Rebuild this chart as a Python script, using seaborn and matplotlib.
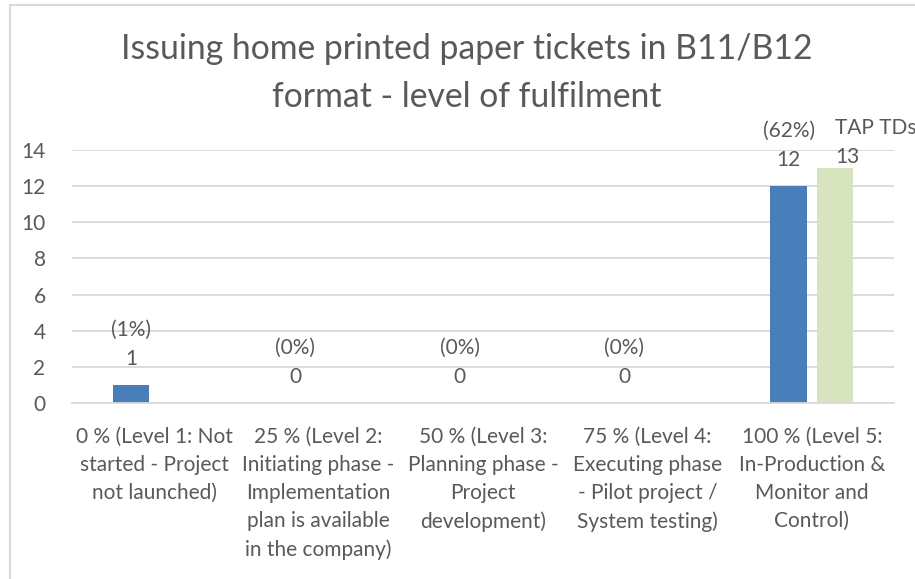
import numpy as np
import pandas as pd
import matplotlib
matplotlib.use("Agg")
import matplotlib.pyplot as plt
import seaborn as sns
from matplotlib.patches import Rectangle

sns.set_theme(style="white")
plt.rcParams["font.family"] = ["Liberation Sans Narrow", "Lato", "DejaVu Sans"]

# Data
categories = [
    "0 % (Level 1: Not\nstarted - Project\nnot launched)",
    "25 % (Level 2:\nInitiating phase -\nImplementation\nplan is available\nin the company)",
    "50 % (Level 3:\nPlanning phase -\nProject\ndevelopment)",
    "75 % (Level 4:\nExecuting phase\n- Pilot project /\nSystem testing)",
    "100 % (Level 5:\nIn-Production &\nMonitor and\nControl)",
]
companies = [1, 0, 0, 0, 12]
company_share = ["(1%)", "(0%)", "(0%)", "(0%)", "(62%)"]
tap_tds = [np.nan, np.nan, np.nan, np.nan, 13]
series_names = ["Companies", "TAP TDs"]

df = pd.DataFrame({
    "category": categories * 2,
    "series": [series_names[0]] * 5 + [series_names[1]] * 5,
    "value": companies + tap_tds,
})

TEXT = "#595959"
GRID = "#d9d9d9"
BLUE = "#4a7ebb"
GREEN = "#d7e4bd"

fig = plt.figure(figsize=(9.15, 5.79), dpi=100)
W, H = 915, 579
ax = fig.add_axes([72 / W, 1 - 403 / H, (894 - 72) / W, (403 - 150) / H])

sns.barplot(data=df, x="category", y="value", hue="series",
            palette=[BLUE, GREEN], saturation=1, width=0.564, linewidth=0,
            legend=False, ax=ax, order=categories, hue_order=series_names)

# narrower bars with a small gap between them
bar_w = 0.222
for p in ax.patches:
    c = p.get_x() + p.get_width() / 2
    p.set_width(bar_w)
    p.set_x(c - bar_w / 2)

ax.set_ylim(0, 14)
ax.set_xlim(-0.5, 4.5)
ax.set_yticks(range(0, 15, 2))
ax.yaxis.grid(True, color=GRID, linewidth=1.3)
ax.set_axisbelow(True)
for s in ["top", "right", "left"]:
    ax.spines[s].set_visible(False)
ax.spines["bottom"].set_color(GRID)
ax.spines["bottom"].set_linewidth(1.3)
ax.tick_params(axis="y", length=0, pad=19, labelsize=15, labelcolor=TEXT)
ax.tick_params(axis="x", length=0, pad=17, labelsize=15, labelcolor=TEXT)
for lbl in ax.get_xticklabels():
    lbl.set_linespacing(1.5)
ax.set_xlabel("")
ax.set_ylabel("")

# value labels
offset = 0.5 * 0.564 / 2
for i, (v, pct) in enumerate(zip(companies, company_share)):
    x = i - offset
    ax.annotate(str(v), (x, v), xytext=(0, 18.5), textcoords="offset points",
                ha="center", va="center", fontsize=15, color=TEXT)
    ax.annotate(pct, (x, v), xytext=(0, 39.5), textcoords="offset points",
                ha="center", va="center", fontsize=15, color=TEXT)
for i, v in enumerate(tap_tds):
    if np.isnan(v):
        continue
    x = i + offset
    ax.annotate(str(int(v)), (x, v), xytext=(9, 8), textcoords="offset points",
                ha="center", va="center", fontsize=15, color=TEXT)
    ax.annotate(series_names[1], (x, v), xytext=(29, 29), textcoords="offset points",
                ha="center", va="center", fontsize=15, color=TEXT)

fig.suptitle("Issuing home printed paper tickets in B11/B12\nformat - level of fulfilment",
             x=467 / W, y=1 - 73 / H, va="center", fontsize=24.3, color=TEXT,
             linespacing=1.62)

# chart frame
fig.patches.append(Rectangle((10 / W, -0.1), 1.2, 1 - 5 / H + 0.1,
                             transform=fig.transFigure, fill=False,
                             edgecolor=GRID, linewidth=1.5))

fig.savefig("out.png", dpi=100, facecolor="white")
